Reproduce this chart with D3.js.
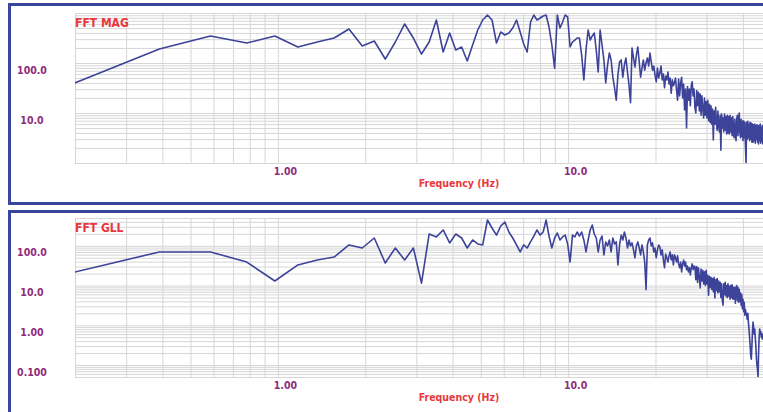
<!DOCTYPE html>
<html>
<head>
<meta charset="utf-8">
<script src="https://cdn.jsdelivr.net/npm/d3@7"></script>
<style>
  body { margin: 0; background: #fff; overflow: hidden; }
  text { font-stretch: condensed; }
</style>
</head>
<body>
<div id="svgContainer"></div>
<script>
// FFT bin width (Hz); bin k sits at k * df
const df = 0.1953125;

// x axis
const freqDomain = [0.2, 50];
const freqTicks = [1, 10];
const freqTickLabels = ["1.00", "10.0"];

// FFT MAG panel
const magDomain = [1, 1000];
const magTicks = [100, 10];
const magTickLabels = ["100.0", "10.0"];
const magBins1 = [38, 191, 347, 251, 347, 209, 263, 316, 479, 219, 275, 120, 263, 603, 316, 151, 263, 724, 166, 398,
  182, 209, 110, 229, 457, 724, 912, 724, 251, 417, 363, 398, 501, 724, 417, 240, 166, 661, 912, 724];
const magBins2 = [794, 870, 912, 525, 229, 79, 912, 501, 661, 912, 832, 209, 263, 288, 316, 316, 145, 46, 182, 457,
  288, 347, 398, 182, 66, 457, 229, 115, 40, 91, 158, 115, 52, 32, 18, 58, 105, 115, 52, 91,
  126, 66, 36, 16, 200, 126, 83, 145, 209, 105, 52, 79, 115, 72, 100, 126, 87, 158, 105, 72,
  87, 58, 42, 79, 50, 63, 87, 46, 60, 32, 55, 46, 66, 38, 50, 25, 46, 35, 40, 50];
const magBins3 = [29, 18, 48, 22, 40, 52, 20, 38, 11.5, 30, 5.0, 34, 18, 30, 14, 36, 42, 22, 30, 13,
  10, 28, 14, 26, 11, 24, 9, 22, 12, 8, 20, 9, 17, 8, 18, 7, 15, 6.5, 14, 6,
  12, 2.9, 11, 6, 13, 6.5, 4.5, 11, 5.5, 4.2, 9, 1.8, 9.5, 5, 8, 4.2, 9.5, 4.6, 8.5, 3.8,
  9, 4, 8.5, 3.8, 9, 4.2, 8, 3.5, 8.5, 4, 3.2, 7.5, 3.6, 2.8, 7.5, 9, 3.5, 8, 10, 4,
  3.2, 7.5, 3.4, 6.8, 2.8, 7, 3.2, 6.5, 2.2, 1.0, 6.5, 3.0, 6.8, 3.2, 6, 2.8, 6.5, 3.0, 6.2, 2.6,
  6, 2.6, 5.8, 2.8, 6, 2.5, 5.5, 3.0, 5.8, 2.6, 5.6, 2.4, 5.5, 2.8, 6, 2.5, 5.2, 2.7, 5.6, 2.4,
  5.5, 2.6, 5.2, 2.8, 5.4, 2.5];

// FFT GLL panel
const gllDomain = [0.05, 500];
const gllTicks = [100, 10, 1, 0.1];
const gllTickLabels = ["100.0", "10.0", "1.00", "0.100"];
const gllBins1 = [21, 70, 70, 39, 13, 33, 44, 52, 105, 88, 157, 37, 88, 44, 88, 11.5, 198, 167, 250, 118,
  198, 157, 88, 140, 111, 105, 445, 280, 186, 314, 395, 222, 157, 105, 70, 105, 88, 125, 176, 250];
const gllBins2 = [186, 222, 445, 176, 88, 157, 210, 140, 167, 186, 111, 39, 186, 167, 222, 176, 222, 140, 70, 140,
  250, 333, 198, 157, 70, 140, 176, 59, 125, 99, 140, 70, 157, 111, 125, 33, 105, 186, 140, 222,
  157, 88, 140, 99, 118, 79, 50, 99, 125, 88, 59, 105, 70, 39, 7.8, 105, 140, 157, 99, 118,
  70, 88, 50, 79, 105, 94, 59, 79, 44, 28, 62, 50, 39, 56, 70, 44, 59, 33, 59, 50];
const gllBins3 = [39, 56, 35, 28, 39, 22, 35, 44, 31, 39, 25, 31, 22, 28, 18.5, 28, 35, 25, 31, 30,
  14, 30, 12, 28, 16, 8.7, 26, 13, 24, 11, 22, 10, 24, 11, 18, 5.7, 17, 9, 16, 8,
  15, 7, 16, 4.9, 14, 7.5, 15, 6.5, 13, 7, 12, 5, 11, 4.3, 3.2, 11, 6, 12, 5.5, 10,
  5, 11, 5.5, 9.5, 4.5, 10, 5, 10.5, 4.6, 9, 4.5, 9, 3.6, 8.5, 10, 4.2, 9, 3.8, 8, 4,
  6.5, 3.2, 6, 2.6, 4.5, 2.2, 3.8, 1.8, 2.5, 2.0, 1.8, 1.4, 2.0, 1.2, 0.8, 0.5, 0.3, 0.17, 0.14, 0.3,
  0.7, 1.2, 0.9, 0.6, 0.8, 0.5, 0.3, 0.15, 0.1, 0.08, 0.05, 0.2, 0.5, 0.8, 0.6, 0.7, 0.5, 0.6, 0.45, 0.6,
  0.55, 0.78, 0.5, 0.62, 0.43, 0.58];

const magValues = magBins1.concat(magBins2, magBins3);
const gllValues = gllBins1.concat(gllBins2, gllBins3);

const width = 763;
const height = 412;
const frameColor = "#39479b";
const lineColor = "#3d4399";
const labelColor = "#8e2c7c";
const titleColor = "#e8383d";
const font = "'DejaVu Sans', sans-serif";

const svg = d3.select("#svgContainer").append("svg")
  .attr("width", width)
  .attr("height", height);

svg.append("rect").attr("width", width).attr("height", height).attr("fill", "#fff");

const x = d3.scaleLog().domain(freqDomain).range([75, 771]);

// all 1..9 multiples between lo and hi
function logGrid(lo, hi) {
  const out = [];
  for (let e = Math.floor(Math.log10(lo)); e <= Math.ceil(Math.log10(hi)); e++) {
    for (let m = 1; m < 10; m++) {
      const v = +(m * Math.pow(10, e)).toPrecision(3);
      if (v >= lo * 0.999 && v <= hi * 1.001) out.push(v);
    }
  }
  return out;
}

const panels = [
  { title: "FFT MAG", frameY: 4.5, frameH: 199, top: 13, bottom: 163,
    domain: magDomain, ticks: magTicks, labels: magTickLabels, values: magValues },
  { title: "FFT GLL", frameY: 211.5, frameH: 260, top: 218, bottom: 377,
    domain: gllDomain, ticks: gllTicks, labels: gllTickLabels, values: gllValues }
];

panels.forEach((p, pi) => {
  const y = d3.scaleLog().domain(p.domain).range([p.bottom, p.top]);
  const g = svg.append("g");

  // frame
  g.append("rect")
    .attr("x", 9.5).attr("y", p.frameY)
    .attr("width", 900).attr("height", p.frameH)
    .attr("fill", "#fff")
    .attr("stroke", frameColor)
    .attr("stroke-width", 3);

  // grid
  const xGrid = g.append("g")
    .attr("transform", `translate(0,${p.bottom})`)
    .call(d3.axisBottom(x).tickValues(logGrid(freqDomain[0], freqDomain[1]))
      .tickSize(-(p.bottom - p.top)).tickFormat(""));
  const yGrid = g.append("g")
    .attr("transform", `translate(${x.range()[0]},0)`)
    .call(d3.axisLeft(y).tickValues(logGrid(p.domain[0], p.domain[1]))
      .tickSize(-(x.range()[1] - x.range()[0])).tickFormat(""));
  [xGrid, yGrid].forEach(a => {
    a.select(".domain").remove();
    a.selectAll("line").attr("stroke", "#d6d6d6").attr("stroke-width", 1);
  });

  // tick labels
  const xLab = g.append("g")
    .attr("transform", `translate(0,${p.bottom})`)
    .call(d3.axisBottom(x).tickValues(freqTicks).tickSize(0)
      .tickFormat((d, i) => freqTickLabels[i]));
  xLab.select(".domain").remove();
  xLab.selectAll("text")
    .attr("x", 7).attr("y", 12).attr("dy", null)
    .attr("fill", labelColor)
    .attr("font-family", font).attr("font-weight", "bold").attr("font-size", 10.5);

  const yLab = g.append("g")
    .attr("transform", "translate(32,0)")
    .call(d3.axisLeft(y).tickValues(p.ticks).tickSize(0)
      .tickFormat((d, i) => p.labels[i]));
  yLab.select(".domain").remove();
  yLab.selectAll("text")
    .attr("x", 0).attr("dy", 10).attr("text-anchor", "middle")
    .attr("fill", labelColor)
    .attr("font-family", font).attr("font-weight", "bold").attr("font-size", 10.5);

  // series
  const clipId = "clip" + pi;
  svg.append("clipPath").attr("id", clipId)
    .append("rect")
    .attr("x", x.range()[0]).attr("y", p.top - 2)
    .attr("width", x.range()[1] - x.range()[0]).attr("height", p.bottom - p.top + 2);

  const line = d3.line()
    .x((d, i) => x((i + 1) * df))
    .y(d => y(d));
  g.append("path")
    .datum(p.values)
    .attr("clip-path", `url(#${clipId})`)
    .attr("fill", "none")
    .attr("stroke", lineColor)
    .attr("stroke-width", 1.6)
    .attr("stroke-linejoin", "round")
    .attr("d", line);

  // titles
  g.append("text")
    .attr("x", 75).attr("y", p.top + 14)
    .attr("fill", titleColor)
    .attr("font-family", font).attr("font-weight", "bold").attr("font-size", 12)
    .text(p.title);
  g.append("text")
    .attr("x", 459).attr("y", p.bottom + 24)
    .attr("text-anchor", "middle")
    .attr("fill", titleColor)
    .attr("font-family", font).attr("font-weight", "bold").attr("font-size", 10.5)
    .text("Frequency (Hz)");
});
</script>
</body>
</html>
